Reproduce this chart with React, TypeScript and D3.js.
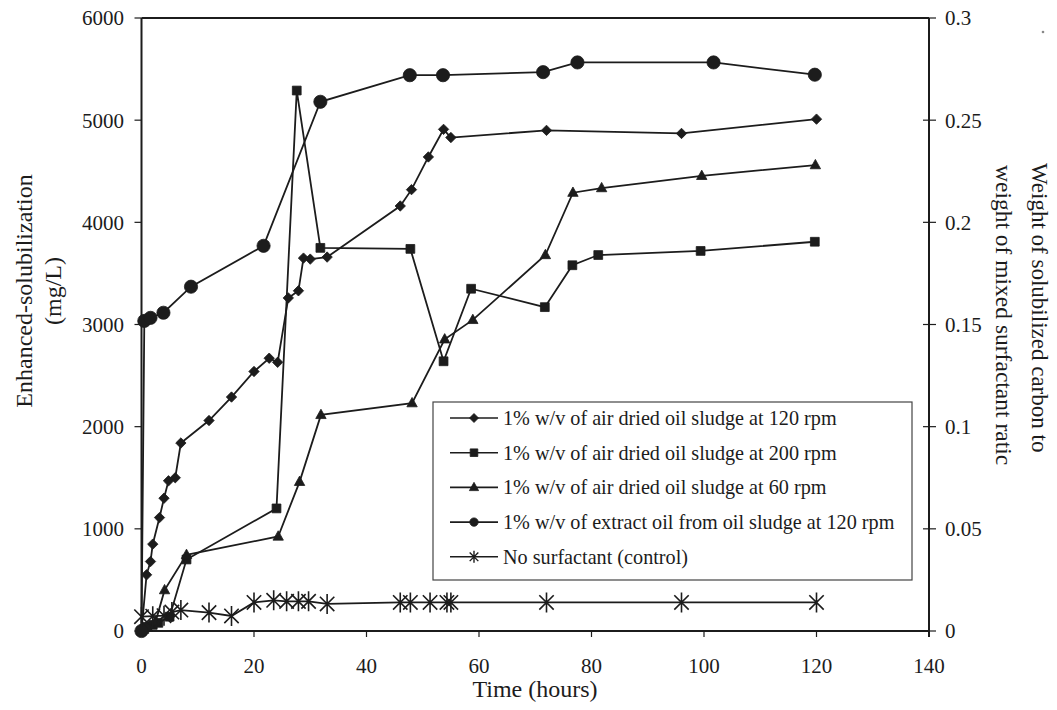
import React from "react";
import * as d3 from "d3";

// time (hours) and enhanced solubilization (mg/L) per run
const tAir120 = [0, 0.9, 1.6, 2, 3.2, 4, 4.8, 6, 7, 12, 16, 20, 22.7, 24.2, 26.1, 27.9, 28.8, 30, 33, 46, 48, 51, 53.7, 55, 72, 96, 120];
const vAir120 = [0, 550, 680, 850, 1110, 1300, 1470, 1500, 1840, 2060, 2290, 2540, 2670, 2630, 3260, 3330, 3650, 3640, 3660, 4160, 4320, 4640, 4910, 4830, 4900, 4870, 5010];

const tAir200 = [0, 0.5, 1, 2, 3, 5, 8, 24, 27.6, 31.8, 47.8, 53.7, 58.6, 71.7, 76.6, 81.2, 99.4, 119.7];
const vAir200 = [0, 20, 40, 60, 80, 140, 700, 1200, 5290, 3750, 3740, 2640, 3350, 3170, 3580, 3680, 3720, 3810];

const tAir60 = [0, 1, 2.5, 4.1, 8, 24.3, 28.1, 31.9, 48.1, 53.9, 58.9, 71.8, 76.7, 81.8, 99.6, 119.8];
const vAir60 = [0, 40, 90, 400, 745, 925, 1460, 2115, 2230, 2855, 3045, 3680, 4290, 4335, 4455, 4560];

const tExtract = [0, 0.5, 1.6, 3.9, 8.8, 21.7, 31.8, 47.7, 53.6, 71.4, 77.5, 101.7, 119.7];
const vExtract = [0, 3035, 3065, 3115, 3370, 3770, 5180, 5440, 5440, 5470, 5565, 5565, 5445];

const tControl = [0, 2, 4, 5.4, 7, 12, 16, 20, 23.5, 25.8, 27.9, 29.7, 33, 46, 47.8, 51.3, 54.3, 55, 72, 96, 120];
const vControl = [140, 145, 150, 185, 205, 180, 147, 280, 300, 290, 290, 290, 265, 280, 280, 280, 280, 280, 280, 280, 280];

const legendLabels = [
  "1% w/v of air dried oil sludge at 120 rpm",
  "1% w/v of air dried oil sludge at 200 rpm",
  "1% w/v of air dried oil sludge at 60 rpm",
  "1% w/v of extract oil from oil sludge at 120 rpm",
  "No surfactant (control)",
];

const xTicks = [0, 20, 40, 60, 80, 100, 120, 140];
const yTicks = [0, 1000, 2000, 3000, 4000, 5000, 6000];
const y2Ticks = [0, 0.05, 0.1, 0.15, 0.2, 0.25, 0.3];

const INK = "#1c1c1c";
const FONT = "'Liberation Serif', 'Times New Roman', serif";

// marker path builders, centred on 0,0
const marker = (kind: string, s: number) => {
  if (kind === "diamond") return `M0,${-s}L${s},0L0,${s}L${-s},0Z`;
  if (kind === "square") return `M${-s},${-s}H${s}V${s}H${-s}Z`;
  if (kind === "triangle") return `M0,${-s * 1.1}L${s},${s * 0.7}L${-s},${s * 0.7}Z`;
  if (kind === "circle") return d3.symbol(d3.symbolCircle, Math.PI * s * s)() as string;
  // asterisk: X plus vertical bar
  const d = s * 0.72;
  return `M${-d},${-d}L${d},${d}M${-d},${d}L${d},${-d}M0,${-s}L0,${s}`;
};

const series = [
  { t: tAir120, v: vAir120, kind: "diamond", size: 5.2, lsize: 4.5 },
  { t: tAir200, v: vAir200, kind: "square", size: 4.4, lsize: 3.8 },
  { t: tAir60, v: vAir60, kind: "triangle", size: 5.2, lsize: 4.6 },
  { t: tExtract, v: vExtract, kind: "circle", size: 6.6, lsize: 4.2 },
  { t: tControl, v: vControl, kind: "star", size: 10, lsize: 6 },
];

export default function App() {
  const width = 1057;
  const height = 710;
  const left = 141.5;
  const right = 929;
  const top = 18;
  const bottom = 631;

  const x = d3.scaleLinear().domain([0, 140]).range([left, right]);
  const y = d3.scaleLinear().domain([0, 6000]).range([bottom, top]);
  const y2 = d3.scaleLinear().domain([0, 0.3]).range([bottom, top]);

  const line = d3
    .line<[number, number]>()
    .x((d) => x(d[0]))
    .y((d) => y(d[1]));

  const legX = 433;
  const legY = 402;
  const legW = 479;
  const legH = 178;
  const rowH = 34.7;

  return (
    <svg
      width={width}
      height={height}
      style={{ position: "absolute", left: 0, top: 0, background: "#fff" }}
      fontFamily={FONT}
    >
      <rect width={width} height={height} fill="#fff" />

      {/* frame */}
      <line x1={left} x2={right} y1={top} y2={top} stroke={INK} strokeWidth={2} />
      <line x1={left} x2={left} y1={top} y2={bottom} stroke={INK} strokeWidth={2} />
      <line x1={left} x2={right} y1={bottom} y2={bottom} stroke={INK} strokeWidth={2} />
      <line x1={right} x2={right} y1={top} y2={bottom + 6} stroke={INK} strokeWidth={2} />

      {/* left axis */}
      {yTicks.map((t) => (
        <g key={"y" + t}>
          <line x1={left - 7} x2={left} y1={y(t)} y2={y(t)} stroke={INK} strokeWidth={1.2} />
          <text x={124} y={y(t)} dy="0.35em" textAnchor="end" fontSize={21} fill={INK}>
            {t}
          </text>
        </g>
      ))}

      {/* right axis */}
      {y2Ticks.map((t) => (
        <g key={"r" + t}>
          <line x1={right - 6} x2={right + 7} y1={y2(t)} y2={y2(t)} stroke={INK} strokeWidth={1.2} />
          <text x={945} y={y2(t)} dy="0.35em" textAnchor="start" fontSize={21} fill={INK}>
            {t}
          </text>
        </g>
      ))}

      {/* x axis */}
      {xTicks.map((t) => (
        <g key={"x" + t}>
          <line x1={x(t)} x2={x(t)} y1={bottom} y2={bottom + 6} stroke={INK} strokeWidth={1.2} />
          <text x={x(t)} y={673} textAnchor="middle" fontSize={21} fill={INK}>
            {t}
          </text>
        </g>
      ))}

      {/* axis titles */}
      <text x={535} y={697} textAnchor="middle" fontSize={24} fill={INK}>
        Time (hours)
      </text>
      <g transform="translate(24,291) rotate(-90)">
        <text textAnchor="middle" dy="0.35em" fontSize={24} fill={INK}>
          Enhanced-solubilization
        </text>
      </g>
      <g transform="translate(53,291) rotate(-90)">
        <text textAnchor="middle" dy="0.35em" fontSize={24} fill={INK}>
          (mg/L)
        </text>
      </g>
      <g transform="translate(1040,163) rotate(90)">
        <text textAnchor="start" dy="0.35em" fontSize={23} fill={INK}>
          Weight of solubilized carbon to
        </text>
      </g>
      <g transform="translate(1004,165) rotate(90)">
        <text textAnchor="start" dy="0.35em" fontSize={23.5} fill={INK}>
          weight of mixed surfactant ratic
        </text>
      </g>
      <circle cx={1043} cy={32} r={1.3} fill="#888" />

      {/* series */}
      {series.map((s, i) => {
        const pts = s.t.map((t, j) => [t, s.v[j]] as [number, number]);
        return (
          <g key={"s" + i}>
            <path d={line(pts) as string} fill="none" stroke={INK} strokeWidth={1.8} />
            {pts.map((p, j) => (
              <path
                key={j}
                transform={`translate(${x(p[0])},${y(p[1])})`}
                d={marker(s.kind, s.size)}
                fill={s.kind === "star" ? "none" : INK}
                stroke={INK}
                strokeWidth={s.kind === "star" ? 1.6 : 0.8}
              />
            ))}
          </g>
        );
      })}

      {/* legend */}
      <rect x={legX} y={legY} width={legW} height={legH} fill="#fff" stroke="#444" strokeWidth={1.2} />
      {series.map((s, i) => {
        const cy = legY + 16 + i * rowH;
        return (
          <g key={"l" + i}>
            <line x1={450} x2={498} y1={cy} y2={cy} stroke={INK} strokeWidth={1.6} />
            <path
              transform={`translate(474,${cy})`}
              d={marker(s.kind, s.lsize)}
              fill={s.kind === "star" ? "none" : INK}
              stroke={INK}
              strokeWidth={s.kind === "star" ? 1.4 : 0.8}
            />
            <text x={503} y={cy} dy="0.35em" fontSize={20.2} fill={INK}>
              {legendLabels[i]}
            </text>
          </g>
        );
      })}
    </svg>
  );
}
